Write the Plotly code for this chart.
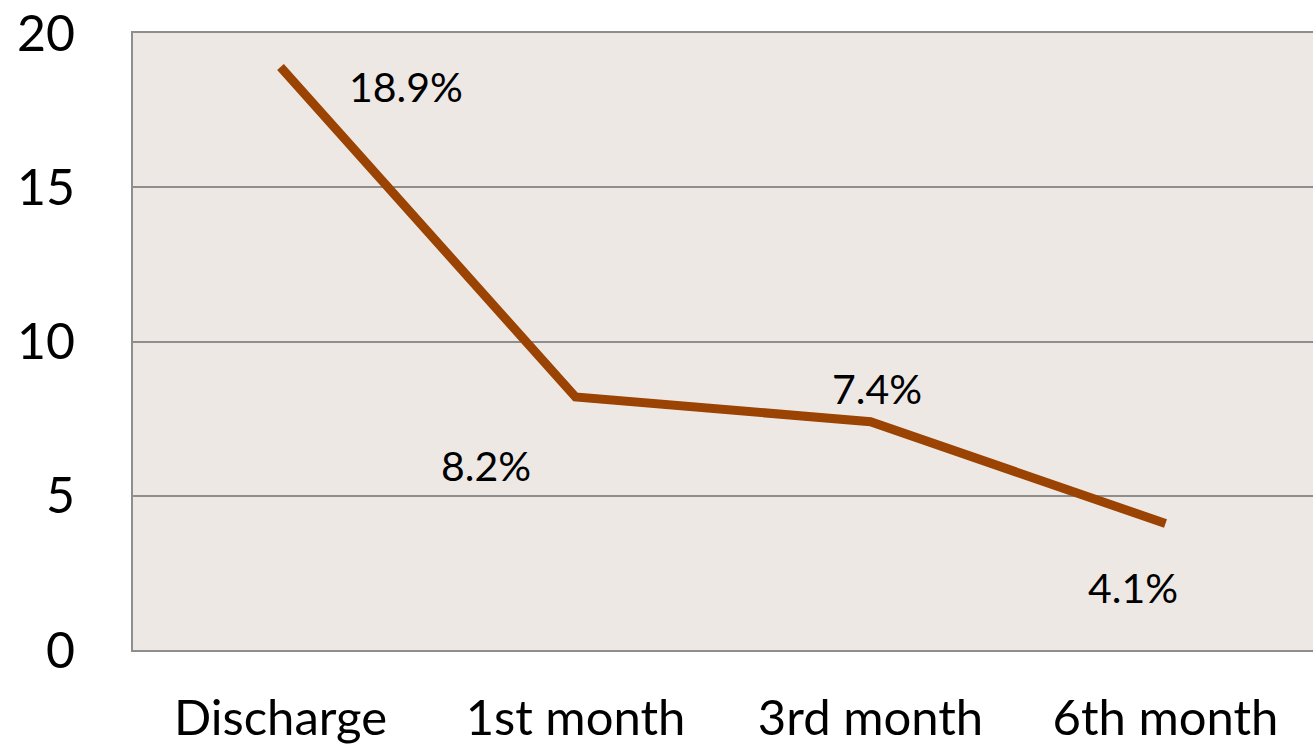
import plotly.graph_objects as go

categories = ["Discharge", "1st month", "3rd month", "6th month"]
values = [18.9, 8.2, 7.4, 4.1]
labels = ["18.9%", "8.2%", "7.4%", "4.1%"]
y_ticks = [0, 5, 10, 15, 20]

# label offsets in pixels (x right, y up)
label_shift_x = [125, -90, 6, -33]
label_shift_y = [-20, -68, 33, -64]

FONT = "Lato, 'Open Sans', sans-serif"
LINE = "#9A4302"
GRID = "#8E8E8E"

fig = go.Figure()
fig.add_trace(go.Scatter(
    x=categories, y=values, mode="lines",
    line=dict(color=LINE, width=9),
    hoverinfo="skip", showlegend=False,
))

for c, v, t, dx, dy in zip(categories, values, labels, label_shift_x, label_shift_y):
    fig.add_annotation(x=c, y=v, text=t, showarrow=False,
                       xshift=dx, yshift=dy,
                       font=dict(family=FONT, size=41, color="black"))

fig.update_layout(
    width=1313, height=746,
    margin=dict(l=133, r=0, t=33, b=96),
    paper_bgcolor="white",
    plot_bgcolor="#EEE8E5",
    font=dict(family=FONT, color="black"),
)
fig.update_xaxes(
    type="category", range=[-0.5, 3.5],
    showgrid=False, showline=True, linecolor=GRID, linewidth=2, mirror=True,
    ticks="outside", ticklen=24, tickcolor="rgba(0,0,0,0)",
    tickfont=dict(family=FONT, size=49),
)
fig.update_yaxes(
    range=[0, 20], tickvals=y_ticks,
    showgrid=True, gridcolor=GRID, gridwidth=1.5,
    showline=True, linecolor=GRID, linewidth=2,
    zeroline=False,
    ticks="outside", ticklen=46, tickcolor="rgba(0,0,0,0)",
    tickfont=dict(family=FONT, size=50),
)

fig.write_html(
    "out.html",
    config={"displayModeBar": False},
    post_script="document.body.style.margin='0';document.body.style.overflow='hidden';",
)
